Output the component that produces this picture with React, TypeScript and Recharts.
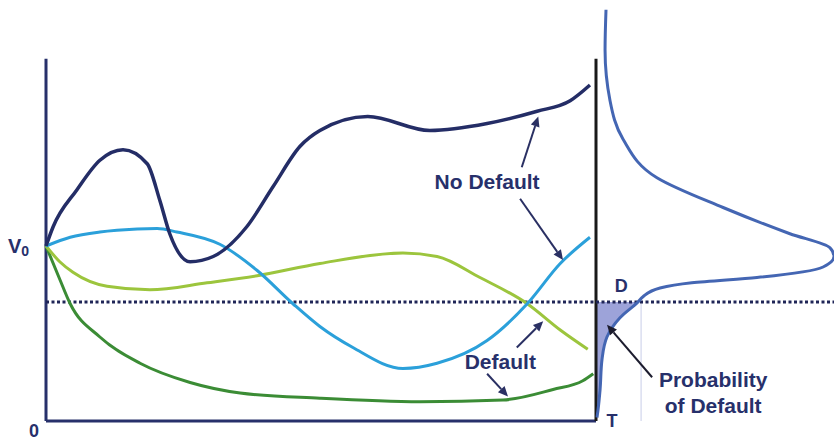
import React from 'react';
import {
  ComposedChart,
  Line,
  Area,
  XAxis,
  YAxis,
  ReferenceLine,
  ReferenceDot,
} from 'recharts';

// time runs 0..T_END inside the box, asset value is relative to V0 = 1
const T_END = 10;
const V0 = 1;
const BARRIER = 0.68; // default point D
const BOX_TOP = 2.07;

// sample asset value paths (t, v)
const noDefaultNavy = [
  { t: 0, v: 1.0 }, { t: 0.13, v: 1.11 }, { t: 0.56, v: 1.32 }, { t: 0.98, v: 1.49 },
  { t: 1.4, v: 1.55 }, { t: 1.84, v: 1.47 }, { t: 2.07, v: 1.26 }, { t: 2.25, v: 1.07 },
  { t: 2.62, v: 0.91 }, { t: 3.04, v: 0.94 }, { t: 3.65, v: 1.11 }, { t: 4.13, v: 1.34 },
  { t: 4.62, v: 1.57 }, { t: 4.98, v: 1.66 }, { t: 5.85, v: 1.74 }, { t: 6.98, v: 1.66 },
  { t: 8.02, v: 1.7 }, { t: 8.93, v: 1.77 }, { t: 9.53, v: 1.83 }, { t: 9.89, v: 1.92 },
];

const noDefaultBlue = [
  { t: 0, v: 1.0 }, { t: 0.44, v: 1.05 }, { t: 0.98, v: 1.08 }, { t: 1.29, v: 1.09 },
  { t: 2.02, v: 1.1 }, { t: 2.38, v: 1.08 }, { t: 3.16, v: 1.01 }, { t: 3.84, v: 0.86 },
  { t: 4.49, v: 0.67 }, { t: 4.98, v: 0.54 }, { t: 5.58, v: 0.42 }, { t: 6.49, v: 0.3 },
  { t: 7.11, v: 0.33 }, { t: 8.02, v: 0.46 }, { t: 8.75, v: 0.67 }, { t: 9.35, v: 0.9 },
  { t: 9.89, v: 1.05 },
];

const defaultLightGreen = [
  { t: 0, v: 1.0 }, { t: 0.25, v: 0.91 }, { t: 0.49, v: 0.85 }, { t: 1.11, v: 0.77 },
  { t: 1.89, v: 0.75 }, { t: 2.93, v: 0.79 }, { t: 3.84, v: 0.83 }, { t: 4.98, v: 0.9 },
  { t: 6.49, v: 0.96 }, { t: 7.11, v: 0.94 }, { t: 7.89, v: 0.82 }, { t: 8.75, v: 0.67 },
  { t: 9.35, v: 0.52 }, { t: 9.85, v: 0.41 },
];

const defaultDarkGreen = [
  { t: 0, v: 1.0 }, { t: 0.25, v: 0.81 }, { t: 0.44, v: 0.67 }, { t: 0.98, v: 0.48 },
  { t: 1.71, v: 0.33 }, { t: 2.62, v: 0.22 }, { t: 3.53, v: 0.16 }, { t: 4.98, v: 0.13 },
  { t: 6.8, v: 0.11 }, { t: 8.31, v: 0.12 }, { t: 9.22, v: 0.18 }, { t: 9.76, v: 0.23 },
  { t: 9.95, v: 0.27 },
];

// distribution of asset value at T (p = density, v = value), top to bottom
const terminalDensity = [
  { p: 0.038, v: 2.35 }, { p: 0.034, v: 2.12 }, { p: 0.055, v: 1.83 }, { p: 0.11, v: 1.61 },
  { p: 0.253, v: 1.39 }, { p: 0.532, v: 1.22 }, { p: 0.814, v: 1.07 }, { p: 0.983, v: 0.99 },
  { p: 1.0, v: 0.94 }, { p: 0.954, v: 0.88 }, { p: 0.675, v: 0.82 }, { p: 0.4, v: 0.79 },
  { p: 0.266, v: 0.76 }, { p: 0.194, v: 0.71 }, { p: 0.173, v: 0.68 }, { p: 0.097, v: 0.59 },
  { p: 0.042, v: 0.48 }, { p: 0.021, v: 0.35 }, { p: 0.013, v: 0.18 }, { p: 0.004, v: 0.06 },
  { p: 0, v: 0.02 },
];

// tail below D = probability of default
const defaultTail = [
  { p: 0, v: 0.02 }, { p: 0.004, v: 0.06 }, { p: 0.013, v: 0.18 }, { p: 0.021, v: 0.35 },
  { p: 0.042, v: 0.48 }, { p: 0.097, v: 0.59 }, { p: 0.173, v: 0.68 },
];

const annotations = [
  { text: 'No Default', t: 8.02, v: 1.37 },
  { text: 'Default', t: 8.26, v: 0.34 },
  { text: 'Probability', t: 12.13, v: 0.235 },
  { text: 'of Default', t: 12.13, v: 0.09 },
  { text: 'D', t: 10.46, v: 0.77 },
  { text: 'T', t: 10.29, v: 0.0 },
  { text: '0', t: -0.22, v: -0.055 },
];

const arrows = [
  { from: { t: 8.65, v: 1.45 }, to: { t: 8.95, v: 1.74 } },
  { from: { t: 8.62, v: 1.27 }, to: { t: 9.4, v: 0.92 } },
  { from: { t: 8.56, v: 0.42 }, to: { t: 9.04, v: 0.57 } },
  { from: { t: 8.02, v: 0.27 }, to: { t: 8.4, v: 0.14 } },
  { from: { t: 11.02, v: 0.25 }, to: { t: 10.2, v: 0.55 } },
];

// pixel layout of the page
const W = 834;
const H = 440;
const X0 = 46;
const PX_T = 55;
const Y0 = 421;
const PX_V = 175;
const P0 = 597;
const PX_P = 237;

const tDomain = [-X0 / PX_T, (W - X0) / PX_T];
const vDomain = [-(H - Y0) / PX_V, Y0 / PX_V];
const pDomain = [-P0 / PX_P, (W - P0) / PX_P];

const NAVY = '#27306b';
const FONT = '"Liberation Sans", Arial, sans-serif';

const arrowShape = (color: string) => (props: any) => {
  const { x1, y1, x2, y2 } = props;
  const a = Math.atan2(y2 - y1, x2 - x1);
  const len = 10;
  const half = 4.5;
  const bx = x2 - len * Math.cos(a);
  const by = y2 - len * Math.sin(a);
  const pts = `${x2},${y2} ${bx - half * Math.sin(a)},${by + half * Math.cos(a)} ${bx + half * Math.sin(a)},${by - half * Math.cos(a)}`;
  return (
    <g>
      <line x1={x1} y1={y1} x2={bx} y2={by} stroke={color} strokeWidth={2} />
      <polygon points={pts} fill={color} />
    </g>
  );
};

export default function App() {
  return (
    <div style={{ position: 'absolute', left: 0, top: 0, width: W, height: H, background: '#fff' }}>
      <ComposedChart width={W} height={H} margin={{ top: 0, right: 0, bottom: 0, left: 0 }}>
        <XAxis xAxisId="t" dataKey="t" type="number" domain={tDomain} allowDataOverflow hide />
        <XAxis xAxisId="p" dataKey="p" type="number" domain={pDomain} allowDataOverflow hide />
        <YAxis yAxisId="v" dataKey="v" type="number" domain={vDomain} allowDataOverflow hide width={0} />

        {/* shaded default tail */}
        <Area
          xAxisId="p"
          yAxisId="v"
          data={defaultTail}
          dataKey="v"
          type="monotone"
          baseValue={BARRIER}
          stroke="none"
          fill="#9da3d9"
          fillOpacity={1}
          isAnimationActive={false}
          dot={false}
          activeDot={false}
        />
        <ReferenceLine
          xAxisId="p"
          yAxisId="v"
          segment={[{ x: 0.186, y: BARRIER }, { x: 0.186, y: 0 }]}
          stroke="#c9cde8"
          strokeWidth={1}
        />

        {/* box */}
        <ReferenceLine xAxisId="t" yAxisId="v" segment={[{ x: 0, y: 0 }, { x: 0, y: BOX_TOP }]} stroke={NAVY} strokeWidth={3} />
        <ReferenceLine xAxisId="t" yAxisId="v" segment={[{ x: 0, y: 0 }, { x: T_END, y: 0 }]} stroke={NAVY} strokeWidth={3} />
        <ReferenceLine xAxisId="t" yAxisId="v" segment={[{ x: T_END, y: 0 }, { x: T_END, y: BOX_TOP }]} stroke="#1a1a1a" strokeWidth={3} />

        {/* default barrier */}
        <ReferenceLine
          xAxisId="t"
          yAxisId="v"
          segment={[{ x: 0, y: BARRIER }, { x: tDomain[1], y: BARRIER }]}
          stroke="#1f2557"
          strokeWidth={3}
          strokeDasharray="3 2.5"
        />

        <Line xAxisId="t" yAxisId="v" data={defaultDarkGreen} dataKey="v" type="monotone" stroke="#3b8c35" strokeWidth={3} dot={false} activeDot={false} isAnimationActive={false} />
        <Line xAxisId="t" yAxisId="v" data={defaultLightGreen} dataKey="v" type="monotone" stroke="#9cc53d" strokeWidth={3} dot={false} activeDot={false} isAnimationActive={false} />
        <Line xAxisId="t" yAxisId="v" data={noDefaultBlue} dataKey="v" type="monotone" stroke="#2ba0da" strokeWidth={3} dot={false} activeDot={false} isAnimationActive={false} />
        <Line xAxisId="t" yAxisId="v" data={noDefaultNavy} dataKey="v" type="monotone" stroke="#242d66" strokeWidth={3.5} dot={false} activeDot={false} isAnimationActive={false} />

        <Line xAxisId="p" yAxisId="v" data={terminalDensity} dataKey="v" type="monotoneY" stroke="#4466b3" strokeWidth={3} dot={false} activeDot={false} isAnimationActive={false} />

        {arrows.map((a, i) => (
          <ReferenceLine
            key={`arrow-${i}`}
            xAxisId="t"
            yAxisId="v"
            segment={[{ x: a.from.t, y: a.from.v }, { x: a.to.t, y: a.to.v }]}
            shape={arrowShape(i === 4 ? '#1c1c2e' : '#2a3063')}
          />
        ))}

        {annotations.map((a, i) => (
          <ReferenceDot
            key={`label-${i}`}
            xAxisId="t"
            yAxisId="v"
            x={a.t}
            y={a.v}
            r={0}
            shape={(props: any) => (
              <text
                x={props.cx}
                y={props.cy}
                textAnchor="middle"
                dominantBaseline="central"
                fontFamily={FONT}
                fontWeight={700}
                fontSize={a.text.length > 1 ? 21 : 18}
                fill={NAVY}
              >
                {a.text}
              </text>
            )}
          />
        ))}

        <ReferenceDot
          xAxisId="t"
          yAxisId="v"
          x={-0.5}
          y={V0}
          r={0}
          shape={(props: any) => (
            <text x={props.cx} y={props.cy} textAnchor="middle" dominantBaseline="central" fontFamily={FONT} fontWeight={700} fill={NAVY}>
              <tspan fontSize={20}>V</tspan>
              <tspan fontSize={14} dy={5}>0</tspan>
            </text>
          )}
        />
      </ComposedChart>
    </div>
  );
}
